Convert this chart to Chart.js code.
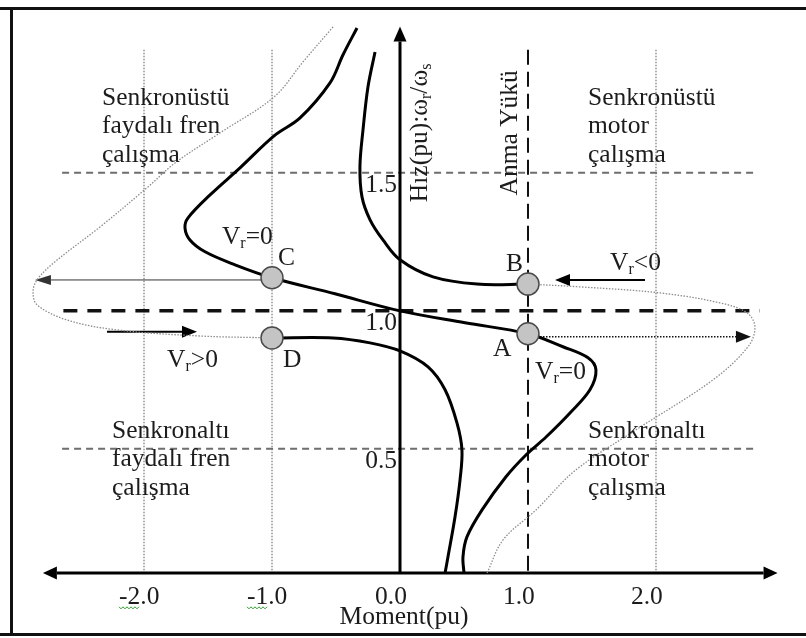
<!DOCTYPE html>
<html>
<head>
<meta charset="utf-8">
<script src="https://cdn.jsdelivr.net/npm/chart.js@4.4.1/dist/chart.umd.min.js"></script>
<style>
  html, body { margin: 0; padding: 0; background: #fff; }
  canvas { display: block; }
</style>
</head>
<body>
<canvas id="moment_hiz" width="806" height="638"></canvas>
<script>
// Eksen etiketleri
const momentTicks = [-2, -1, 0, 1, 2];
const momentTickLabels = ['-2.0', '-1.0', '0.0', '1.0', '2.0'];
const hizTicks = [1.5, 1.0, 0.5];
const hizTickLabels = ['1.5', '1.0', '0.5'];

// Vr=0 egrisi (C ve A noktalarindan gecen)
const vr0Moment = [-0.336, -0.445, -0.547, -0.781, -0.984, -1.25, -1.484, -1.656, -1.68, -1.641, -1.523, -1.289, -1.0, -0.508, 0, 0.508, 1.0, 1.273, 1.469, 1.531, 1.484, 1.328, 1.141, 0.984, 0.828, 0.641, 0.523, 0.492, 0.5];
const vr0Hiz = [2.025, 1.928, 1.826, 1.699, 1.634, 1.518, 1.42, 1.337, 1.301, 1.257, 1.214, 1.167, 1.12, 1.062, 1.0, 0.957, 0.917, 0.87, 0.83, 0.786, 0.714, 0.63, 0.543, 0.478, 0.399, 0.279, 0.181, 0.109, 0.05];

// Vr<0 egrisi (B noktasina gelen)
const vrNegMoment = [-0.195, -0.25, -0.289, -0.313, -0.297, -0.234, -0.133, 0, 0.258, 0.602, 1.0];
const vrNegHiz = [1.938, 1.812, 1.656, 1.522, 1.413, 1.33, 1.257, 1.185, 1.123, 1.097, 1.097];

// Vr>0 egrisi (D noktasindan cikan)
const vrPosMoment = [-1.0, -0.523, -0.234, 0, 0.219, 0.352, 0.445, 0.484, 0.469, 0.43, 0.375, 0.352];
const vrPosHiz = [0.902, 0.902, 0.884, 0.855, 0.797, 0.714, 0.594, 0.496, 0.388, 0.254, 0.109, 0.05];

// ince noktali gecis egrileri
const inceSolMoment = [-0.523, -0.758, -0.984, -1.406, -1.758, -1.969, -2.344, -2.695, -2.836, -2.867, -2.836, -2.602, -2.211, -1.563, -1.0];
const inceSolHiz = [2.029, 1.902, 1.775, 1.645, 1.536, 1.449, 1.304, 1.178, 1.112, 1.069, 1.022, 0.967, 0.931, 0.909, 0.902];
const inceSagMoment = [1.0, 1.406, 2.031, 2.5, 2.711, 2.773, 2.719, 2.445, 1.844, 1.375, 1.063, 0.805, 0.68];
const inceSagHiz = [1.097, 1.087, 1.065, 1.029, 0.993, 0.942, 0.87, 0.75, 0.569, 0.424, 0.279, 0.17, 0.05];

// calisma noktalari A, B, C, D
const noktaAdlari = ['A', 'B', 'C', 'D'];
const noktaMoment = [1.0, 1.0, -1.0, -1.0];
const noktaHiz = [0.917, 1.097, 1.12, 0.902];

// oklar: [moment1, hiz1, moment2, hiz2]
const okC = [-1.0, 1.112, -2.852, 1.112];
const okVrPos = [-2.289, 0.924, -1.586, 0.924];
const okVrNeg = [1.914, 1.112, 1.211, 1.112];
const okA = [1.0, 0.906, 2.742, 0.906];

const bolgeUstSol = ['Senkronüstü', 'faydalı fren', 'çalışma'];
const bolgeUstSag = ['Senkronüstü', 'motor', 'çalışma'];
const bolgeAltSol = ['Senkronaltı', 'faydalı fren', 'çalışma'];
const bolgeAltSag = ['Senkronaltı', 'motor', 'çalışma'];

const FONT = '"Liberation Serif", "Times New Roman", serif';
const YAZI = 25.5;

function noktalar(mList, hList) {
    return mList.map((m, i) => ({ x: m, y: hList[i] }));
}

function okCiz(c, x1, y1, x2, y2, o) {
    c.save();
    c.strokeStyle = o.renk;
    c.fillStyle = o.renk;
    c.lineWidth = o.kalinlik;
    c.setLineDash(o.kesik || []);
    const a = Math.atan2(y2 - y1, x2 - x1);
    const bx = x2 - o.uzunluk * Math.cos(a);
    const by = y2 - o.uzunluk * Math.sin(a);
    c.beginPath();
    c.moveTo(x1, y1);
    c.lineTo(bx, by);
    c.stroke();
    c.setLineDash([]);
    c.beginPath();
    c.moveTo(x2, y2);
    c.lineTo(bx + o.yari * Math.sin(a), by - o.yari * Math.cos(a));
    c.lineTo(bx - o.yari * Math.sin(a), by + o.yari * Math.cos(a));
    c.closePath();
    c.fill();
    c.restore();
}

function cizgi(c, x1, y1, x2, y2, renk, kalinlik, kesik) {
    c.save();
    c.strokeStyle = renk;
    c.lineWidth = kalinlik;
    c.setLineDash(kesik || []);
    c.beginPath();
    c.moveTo(x1, y1);
    c.lineTo(x2, y2);
    c.stroke();
    c.restore();
}

// parca parca yazi (alt indisli)
function parcaliYazi(c, parcalar, x, y, hiza) {
    let toplam = 0;
    parcalar.forEach(p => {
        c.font = (p[1] ? 16 : YAZI) + 'px ' + FONT;
        toplam += c.measureText(p[0]).width;
    });
    let cx = hiza === 'center' ? x - toplam / 2 : x;
    c.textAlign = 'left';
    c.textBaseline = 'middle';
    parcalar.forEach(p => {
        c.font = (p[1] ? 16 : YAZI) + 'px ' + FONT;
        c.fillText(p[0], cx, p[1] ? y + 7 : y);
        cx += c.measureText(p[0]).width;
    });
}

const cizimler = {
    id: 'cizimler',
    beforeDatasetsDraw(chart) {
        const c = chart.ctx;
        const x = chart.scales.x, y = chart.scales.y;
        const px = v => x.getPixelForValue(v);
        const py = v => y.getPixelForValue(v);
        const area = chart.chartArea;

        // cerceve
        cizgi(c, 0, area.top + 1.5, 806, area.top + 1.5, '#111', 3);
        cizgi(c, 0, area.bottom - 1.5, 806, area.bottom - 1.5, '#111', 3);
        cizgi(c, area.left + 1.5, area.top, area.left + 1.5, area.bottom, '#111', 3);

        const eksenHiz = 0.05;
        const ustSinir = 1.946;

        // noktali dikey izgara
        [-2, -1, 2].forEach(m => {
            cizgi(c, px(m), py(ustSinir), px(m), py(eksenHiz), '#8a8a8a', 1.4, [1.5, 1.5]);
        });

        // hiz cizgileri
        cizgi(c, px(-2.64), py(hizTicks[0]), px(2.78), py(hizTicks[0]), '#6e6e6e', 2, [7, 5]);
        cizgi(c, px(-2.64), py(hizTicks[2]), px(2.78), py(hizTicks[2]), '#6e6e6e', 2, [7, 5]);
        cizgi(c, px(-2.63), py(hizTicks[1]), px(2.81), py(hizTicks[1]), '#111', 3.5, [14, 10]);

        // Anma yuku
        cizgi(c, px(1.0), py(ustSinir), px(1.0), py(eksenHiz), '#111', 2, [15, 7]);

        // eksenler
        const axisY = py(eksenHiz);
        okCiz(c, px(0), axisY, px(0), py(2.03), { renk: '#000', kalinlik: 3, uzunluk: 15, yari: 6.5 });
        okCiz(c, px(0), axisY, px(-2.79), axisY, { renk: '#000', kalinlik: 3, uzunluk: 14, yari: 6.5 });
        okCiz(c, px(0), axisY, px(2.95), axisY, { renk: '#000', kalinlik: 3, uzunluk: 14, yari: 6.5 });

        // oklar
        okCiz(c, px(okC[0]), py(okC[1]), px(okC[2]), py(okC[3]), { renk: '#333', kalinlik: 1, uzunluk: 16, yari: 5 });
        okCiz(c, px(okVrPos[0]), py(okVrPos[1]), px(okVrPos[2]), py(okVrPos[3]), { renk: '#000', kalinlik: 2, uzunluk: 15, yari: 6 });
        okCiz(c, px(okVrNeg[0]), py(okVrNeg[1]), px(okVrNeg[2]), py(okVrNeg[3]), { renk: '#000', kalinlik: 2, uzunluk: 15, yari: 6 });
        okCiz(c, px(okA[0]), py(okA[1]), px(okA[2]), py(okA[3]), { renk: '#111', kalinlik: 1.5, kesik: [1.5, 1.5], uzunluk: 15, yari: 6 });
    },
    afterDatasetsDraw(chart) {
        const c = chart.ctx;
        const x = chart.scales.x, y = chart.scales.y;
        const px = v => x.getPixelForValue(v);
        const py = v => y.getPixelForValue(v);
        c.save();
        c.fillStyle = '#1c1c1c';
        c.font = YAZI + 'px ' + FONT;

        // bolge yazilari
        const bolge = (satirlar, m, h) => {
            c.textAlign = 'left';
            c.textBaseline = 'alphabetic';
            satirlar.forEach((s, i) => c.fillText(s, px(m), py(h) + i * 28.5));
        };
        bolge(bolgeUstSol, -2.328, 1.746);
        bolge(bolgeUstSag, 1.469, 1.746);
        bolge(bolgeAltSol, -2.25, 0.54);
        bolge(bolgeAltSag, 1.469, 0.54);

        // moment eksen yazilari
        c.textBaseline = 'middle';
        c.textAlign = 'left';
        momentTicks.forEach((m, i) => {
            const lx = px(m) - 25, ly = py(-0.036);
            c.fillText(momentTickLabels[i], lx, ly);
            if (m < 0) {
                const w = c.measureText(momentTickLabels[i].slice(0, 2)).width;
                c.save();
                c.strokeStyle = '#2a9a2a';
                c.lineWidth = 1;
                c.beginPath();
                for (let k = 0; k <= w; k += 2) {
                    c.lineTo(lx + k, ly + 10 + ((k / 2) % 2 ? 2 : 0));
                }
                c.stroke();
                c.restore();
            }
        });
        c.textAlign = 'center';
        c.fillText('Moment(pu)', px(0.031), py(-0.109));

        // hiz eksen yazilari
        c.textAlign = 'right';
        hizTicks.forEach((h, i) => {
            c.fillText(hizTickLabels[i], px(0) - 3, py(h) + 12);
        });

        // dikey yazilar
        c.save();
        c.translate(px(0.156), py(1.645));
        c.rotate(-Math.PI / 2);
        parcaliYazi(c, [['Hız(pu):ω', false], ['r', true], ['/ω', false], ['s', true]], 0, 0, 'center');
        c.restore();
        c.save();
        c.translate(px(0.859), py(1.645));
        c.rotate(-Math.PI / 2);
        c.font = YAZI + 'px ' + FONT;
        c.textAlign = 'center';
        c.textBaseline = 'middle';
        c.fillText('Anma Yükü', 0, 0);
        c.restore();

        // nokta adlari
        c.font = YAZI + 'px ' + FONT;
        c.textAlign = 'left';
        c.textBaseline = 'middle';
        const adKonum = { A: [0.727, 0.859], B: [0.828, 1.167], C: [-0.953, 1.192], D: [-0.914, 0.822] };
        noktaAdlari.forEach(ad => c.fillText(ad, px(adKonum[ad][0]), py(adKonum[ad][1])));

        // Vr yazilari
        parcaliYazi(c, [['V', false], ['r', true], ['=0', false]], px(-1.391), py(1.268), 'left');
        parcaliYazi(c, [['V', false], ['r', true], ['=0', false]], px(1.055), py(0.779), 'left');
        parcaliYazi(c, [['V', false], ['r', true], ['>0', false]], px(-1.82), py(0.822), 'left');
        parcaliYazi(c, [['V', false], ['r', true], ['<0', false]], px(1.641), py(1.174), 'left');
        c.restore();
    }
};

const kalin = { borderColor: '#000', borderWidth: 3, pointRadius: 0, showLine: true, tension: 0.35, order: 1 };
const ince = { borderColor: '#8c8c8c', borderWidth: 1.3, borderDash: [1.5, 1.5], pointRadius: 0, showLine: true, tension: 0.35, order: 2 };

new Chart(document.getElementById('moment_hiz').getContext('2d'), {
    type: 'scatter',
    data: {
        datasets: [
            {
                label: 'Çalışma noktaları',
                data: noktalar(noktaMoment, noktaHiz),
                pointRadius: 11,
                pointBackgroundColor: '#c4c4c4',
                pointBorderColor: '#4a4a4a',
                pointBorderWidth: 1.5,
                showLine: false,
                order: 0
            },
            Object.assign({ label: 'Vr=0', data: noktalar(vr0Moment, vr0Hiz) }, kalin),
            Object.assign({ label: 'Vr<0', data: noktalar(vrNegMoment, vrNegHiz) }, kalin),
            Object.assign({ label: 'Vr>0', data: noktalar(vrPosMoment, vrPosHiz) }, kalin),
            Object.assign({ label: 'geçiş sol', data: noktalar(inceSolMoment, inceSolHiz) }, ince),
            Object.assign({ label: 'geçiş sağ', data: noktalar(inceSagMoment, inceSagHiz) }, ince)
        ]
    },
    options: {
        responsive: false,
        animation: false,
        events: [],
        devicePixelRatio: 1,
        layout: { autoPadding: false, padding: { left: 10, top: 7, right: 0, bottom: 2 } },
        scales: {
            x: { type: 'linear', min: -3.047, max: 3.172, display: false },
            y: { type: 'linear', min: -0.178, max: 2.101, display: false }
        },
        plugins: {
            legend: { display: false },
            tooltip: { enabled: false }
        }
    },
    plugins: [cizimler]
});
</script>
</body>
</html>
